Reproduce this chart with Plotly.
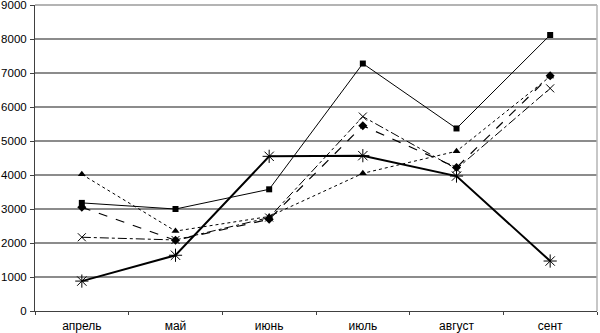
import plotly.graph_objects as go

months = ["апрель", "май", "июнь", "июль", "август", "сент"]
s_square = [3180, 3000, 3580, 7280, 5370, 8120]
s_triangle = [4020, 2350, 2780, 4050, 4700, 6900]
s_diamond = [3050, 2080, 2700, 5450, 4220, 6920]
s_cross = [2170, 2090, 2750, 5720, 4180, 6550]
s_star = [880, 1640, 4550, 4570, 3970, 1470]
y_ticks = [0, 1000, 2000, 3000, 4000, 5000, 6000, 7000, 8000, 9000]

fig = go.Figure()
fig.add_trace(go.Scatter(x=months, y=s_square, mode="lines+markers",
    line=dict(color="black", width=1), marker=dict(symbol="square", size=6, color="black")))
fig.add_trace(go.Scatter(x=months, y=s_triangle, mode="lines+markers",
    line=dict(color="black", width=1, dash="dot"), marker=dict(symbol="triangle-up", size=7, color="black")))
fig.add_trace(go.Scatter(x=months, y=s_diamond, mode="lines+markers",
    line=dict(color="black", width=1.2, dash="dash"), marker=dict(symbol="diamond", size=7, color="black")))
fig.add_trace(go.Scatter(x=months, y=s_cross, mode="lines+markers",
    line=dict(color="black", width=1, dash="dashdot"),
    marker=dict(symbol="x-thin-open", size=8, line=dict(color="black", width=1))))
fig.add_trace(go.Scatter(x=months, y=s_star, mode="lines+markers",
    line=dict(color="black", width=2),
    marker=dict(symbol="asterisk-open", size=11, line=dict(color="black", width=1))))

fig.update_layout(
    width=600, height=333, showlegend=False,
    margin=dict(l=35, r=3, t=5, b=22),
    paper_bgcolor="white", plot_bgcolor="white",
    font=dict(family="Liberation Sans, Arial", size=12, color="black"),
    xaxis=dict(type="category", showgrid=False, showline=True, linecolor="#404040", linewidth=1,
               ticks="outside", ticklen=3, tickcolor="#404040", tickson="boundaries",
               range=[-0.5, 5.5], automargin=False, ticklabelstandoff=4),
    yaxis=dict(range=[0, 9002], tickvals=y_ticks, showgrid=True, gridcolor="#8c8c8c", gridwidth=1.5,
               showline=True, linecolor="#404040", linewidth=1, ticks="outside", ticklen=4,
               tickcolor="#404040", zeroline=False, automargin=False, ticklabelstandoff=1,
               ticklabeloverflow="allow", tickfont=dict(size=11.5)),
)
fig.add_shape(type="line", xref="paper", yref="paper", x0=1, x1=1, y0=0, y1=1,
              line=dict(color="#b4b4b4", width=1.5))
fig.add_shape(type="line", xref="paper", yref="paper", x0=0, x1=1, y0=1, y1=1,
              line=dict(color="#b4b4b4", width=2))
fig.write_html("out.html", config={"displayModeBar": False},
               post_script="document.body.style.margin='0';")
